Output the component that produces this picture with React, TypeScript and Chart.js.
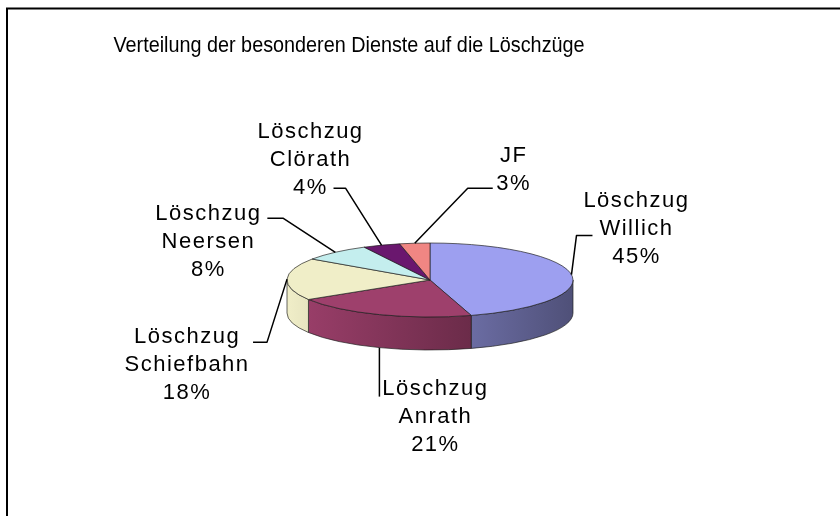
import React, { useEffect, useRef } from "react";
import { Chart, registerables } from "chart.js";
Chart.register(...registerables);

// ---- data ----
const TITLE = "Verteilung der besonderen Dienste auf die Löschzüge";
const CATEGORIES = [
  "Löschzug Willich",
  "Löschzug Anrath",
  "Löschzug Schiefbahn",
  "Löschzug Neersen",
  "Löschzug Clörath",
  "JF",
];
const LABEL_LINES = [
  ["Löschzug", "Willich"],
  ["Löschzug", "Anrath"],
  ["Löschzug", "Schiefbahn"],
  ["Löschzug", "Neersen"],
  ["Löschzug", "Clörath"],
  ["JF"],
];
const SHARES = [45.3, 20.8, 18.4, 7.8, 4.2, 3.4];
const COLORS = ["#9D9FF0", "#9E406C", "#F0EEC8", "#C4EEEE", "#6A176E", "#F08683"];

// ---- layout (label placement relative to slice anchor) ----
const LABEL_OFFSET = [
  [65, -46],
  [56, 69],
  [-100, 86],
  [-127, -10],
  [-71, -85],
  [99, -73],
];
const ATTACH = [
  [-44, 7],
  [-56, -20],
  [66, -23],
  [59, -24],
  [23, 28],
  [-21, 18],
];
const ELBOW = [-16, 0, 14, 16, 12, -25];
const DEPTH = 33;
const SQUASH = 37 / 143;
const LABEL_FONT = "22px 'Liberation Sans', Arial, sans-serif";
const TITLE_FONT = "22px 'Liberation Sans', Arial, sans-serif";
const LINE_H = 28;

function shade(hex: string, f: number) {
  const n = parseInt(hex.slice(1), 16);
  const r = Math.round(((n >> 16) & 255) * f);
  const g = Math.round(((n >> 8) & 255) * f);
  const b = Math.round((n & 255) * f);
  return `rgb(${r},${g},${b})`;
}

const pie3d = {
  id: "pie3d",
  beforeDraw(chart: any) {
    const ctx = chart.ctx;
    ctx.save();
    ctx.fillStyle = "#fff";
    ctx.fillRect(0, 0, chart.width, chart.height);
    ctx.strokeStyle = "#000";
    ctx.lineWidth = 2;
    ctx.beginPath();
    ctx.moveTo(7, chart.height);
    ctx.lineTo(7, 8.5);
    ctx.lineTo(chart.width, 8.5);
    ctx.stroke();
    ctx.fillStyle = "#000";
    ctx.font = TITLE_FONT;
    ctx.textAlign = "center";
    ctx.textBaseline = "middle";
    ctx.translate(349, 46);
    ctx.scale(0.9, 1);
    ctx.fillText(TITLE, 0, 0);
    ctx.restore();
  },
  beforeDatasetsDraw(chart: any) {
    const ctx = chart.ctx;
    const meta = chart.getDatasetMeta(0);
    const ds = chart.data.datasets[0];
    const arcs = meta.data;
    if (!arcs.length) return false;
    const p0 = arcs[0].getProps(["x", "y", "outerRadius"], true);
    const cx = p0.x, cy = p0.y, R = p0.outerRadius;
    const ry = R * SQUASH;
    const total = (ds.data as number[]).reduce((a, b) => a + b, 0);
    ctx.save();
    ctx.lineJoin = "round";
    // side walls (front half only)
    arcs.forEach((arc: any, i: number) => {
      const p = arc.getProps(["startAngle", "endAngle"], true);
      const a = Math.max(p.startAngle, 0);
      const b = Math.min(p.endAngle, Math.PI);
      if (b <= a) return;
      const col = ds.backgroundColor[i];
      const g = ctx.createLinearGradient(cx - R, 0, cx + R, 0);
      g.addColorStop(0, shade(col, 1.0));
      g.addColorStop(1, shade(col, 0.5));
      ctx.beginPath();
      ctx.ellipse(cx, cy, R, ry, 0, a, b, false);
      ctx.lineTo(cx + R * Math.cos(b), cy + ry * Math.sin(b) + DEPTH);
      ctx.ellipse(cx, cy + DEPTH, R, ry, 0, b, a, true);
      ctx.closePath();
      ctx.fillStyle = g;
      ctx.fill();
      ctx.strokeStyle = "rgba(30,30,30,0.85)";
      ctx.lineWidth = 0.8;
      ctx.stroke();
    });
    // top faces
    arcs.forEach((arc: any, i: number) => {
      const p = arc.getProps(["startAngle", "endAngle"], true);
      ctx.beginPath();
      ctx.moveTo(cx, cy);
      ctx.ellipse(cx, cy, R, ry, 0, p.startAngle, p.endAngle, false);
      ctx.closePath();
      ctx.fillStyle = ds.backgroundColor[i];
      ctx.fill();
      ctx.strokeStyle = "rgba(30,30,30,0.85)";
      ctx.lineWidth = 0.8;
      ctx.stroke();
    });
    // leaders + labels
    arcs.forEach((arc: any, i: number) => {
      const p = arc.getProps(["startAngle", "endAngle"], true);
      const mid = (p.startAngle + p.endAngle) / 2;
      const ax = cx + R * Math.cos(mid);
      let ay = cy + ry * Math.sin(mid);
      if (Math.sin(mid) > 0.05) ay += DEPTH;
      const lx = ax + LABEL_OFFSET[i][0];
      const ly = ay + LABEL_OFFSET[i][1];
      const tx = lx + ATTACH[i][0];
      const ty = ly + ATTACH[i][1];
      ctx.strokeStyle = "#000";
      ctx.lineWidth = 1.5;
      ctx.beginPath();
      ctx.moveTo(ax, ay);
      ctx.lineTo(tx + ELBOW[i], ty);
      ctx.lineTo(tx, ty);
      ctx.stroke();
      const pct = Math.round(((ds.data[i] as number) / total) * 100) + "%";
      const lines = [...LABEL_LINES[i], pct];
      ctx.fillStyle = "#000";
      ctx.font = LABEL_FONT;
      (ctx as any).letterSpacing = "1.5px";
      ctx.textAlign = "center";
      ctx.textBaseline = "middle";
      lines.forEach((t, j) => {
        ctx.fillText(t, lx, ly + (j - (lines.length - 1) / 2) * LINE_H);
      });
      (ctx as any).letterSpacing = "0px";
    });
    ctx.restore();
    return false;
  },
};

export default function App() {
  const ref = useRef<HTMLCanvasElement | null>(null);
  useEffect(() => {
    if (!ref.current) return;
    const chart = new Chart(ref.current, {
      type: "pie",
      data: {
        labels: CATEGORIES,
        datasets: [
          {
            data: SHARES,
            backgroundColor: COLORS,
            borderWidth: 0,
          },
        ],
      },
      options: {
        animation: false,
        responsive: true,
        maintainAspectRatio: false,
        devicePixelRatio: 1,
        events: [],
        layout: { padding: { left: 287, right: 267, top: 137, bottom: 93 } },
        plugins: {
          legend: { display: false },
          tooltip: { enabled: false },
          title: { display: false },
        },
      },
      plugins: [pie3d],
    });
    return () => chart.destroy();
  }, []);
  return (
    <div style={{ position: "absolute", left: 0, top: 0, width: 840, height: 516 }}>
      <canvas ref={ref} />
    </div>
  );
}
